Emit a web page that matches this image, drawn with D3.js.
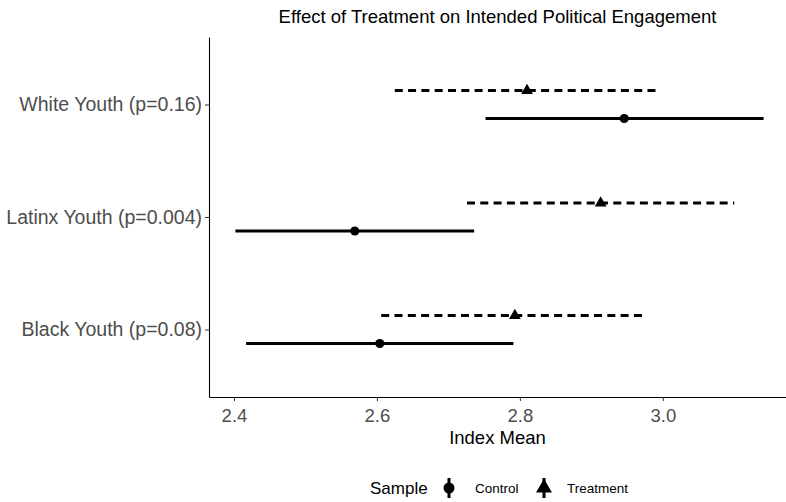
<!DOCTYPE html>
<html lang="en">
<head>
<meta charset="UTF-8">
<title>Effect of Treatment on Intended Political Engagement</title>
<script src="https://d3js.org/d3.v7.min.js"></script>
<style>
    body { margin: 0; background: #fff; font-family: "Liberation Sans", Arial, sans-serif; }
    .axis text { fill: #4d4d4d; font-family: "Liberation Sans", Arial, sans-serif; }
    .axis .tick line { stroke: #333; }
    .axis path { stroke: #000; stroke-width: 1.1; }
</style>
</head>
<body>
<div id="chart"></div>
<script>
    // data
    const groups = ["White Youth (p=0.16)", "Latinx Youth (p=0.004)", "Black Youth (p=0.08)"];
    const samples = ["Treatment", "Control"];
    const controlMean = [2.946, 2.569, 2.604];
    const controlLow = [2.752, 2.402, 2.417];
    const controlHigh = [3.141, 2.736, 2.791];
    const treatMean = [2.810, 2.913, 2.793];
    const treatLow = [2.625, 2.726, 2.606];
    const treatHigh = [2.995, 3.100, 2.978];
    const xTicks = [2.4, 2.6, 2.8, 3.0];

    const rows = [];
    groups.forEach((g, i) => {
        rows.push({ group: g, sample: "Control", mean: controlMean[i], low: controlLow[i], high: controlHigh[i] });
        rows.push({ group: g, sample: "Treatment", mean: treatMean[i], low: treatLow[i], high: treatHigh[i] });
    });

    const W = 786, H = 502;
    // the panel runs slightly past the right edge of the picture
    const margin = { top: 37, right: -4, bottom: 105, left: 209 };

    const svg = d3.select("#chart").append("svg")
        .attr("width", W)
        .attr("height", H);

    // ggplot style 5% expansion
    const lo = d3.min(rows, d => d.low), hi = d3.max(rows, d => d.high);
    const pad = (hi - lo) * 0.05;
    const x = d3.scaleLinear()
        .domain([lo - pad, hi + pad])
        .range([margin.left, W - margin.right]);

    const y = d3.scalePoint()
        .domain(groups)
        .range([margin.top, H - margin.bottom])
        .padding(0.6);

    const dodge = d3.scalePoint()
        .domain(samples)
        .range([-14, 14]);

    const dash = { Control: null, Treatment: "8,5.3" };

    svg.append("g")
        .attr("class", "axis")
        .attr("transform", `translate(0,${H - margin.bottom})`)
        .call(d3.axisBottom(x).tickValues(xTicks).tickFormat(d3.format(".1f")).tickSize(4).tickSizeOuter(0))
        .call(g => g.selectAll("text").attr("font-size", 18.5).attr("dy", "0.95em"));

    svg.append("g")
        .attr("class", "axis")
        .attr("transform", `translate(${margin.left},0)`)
        .call(d3.axisLeft(y).tickSize(4).tickSizeOuter(0))
        .call(g => g.selectAll("text").attr("font-size", 19.5).attr("x", -7));

    // intervals
    svg.selectAll(".ci")
        .data(rows)
        .enter().append("line")
        .attr("class", "ci")
        .attr("x1", d => x(d.low))
        .attr("x2", d => x(d.high))
        .attr("y1", d => y(d.group) + dodge(d.sample))
        .attr("y2", d => y(d.group) + dodge(d.sample))
        .attr("stroke", "#000")
        .attr("stroke-width", 3)
        .attr("stroke-dasharray", d => dash[d.sample]);

    // point estimates
    const shape = {
        Control: d3.symbol(d3.symbolCircle, 66)(),
        Treatment: d3.symbol(d3.symbolTriangle, 60)()
    };
    svg.selectAll(".est")
        .data(rows)
        .enter().append("path")
        .attr("class", "est")
        .attr("d", d => shape[d.sample])
        .attr("transform", d => `translate(${x(d.mean)},${y(d.group) + dodge(d.sample)})`)
        .attr("fill", "#000");

    // title and axis title
    const midX = (margin.left + W - margin.right) / 2;
    svg.append("text")
        .attr("x", midX - 2)
        .attr("y", 23)
        .attr("text-anchor", "middle")
        .attr("font-size", 18.5)
        .attr("fill", "#000")
        .text("Effect of Treatment on Intended Political Engagement");

    svg.append("text")
        .attr("x", midX - 2)
        .attr("y", 444)
        .attr("text-anchor", "middle")
        .attr("font-size", 18.5)
        .attr("fill", "#000")
        .text("Index Mean");

    // legend
    const leg = svg.append("g").attr("transform", "translate(0,488)");
    leg.append("text")
        .attr("x", 370).attr("y", 6)
        .attr("font-size", 17)
        .text("Sample");

    const legItems = [
        { sample: "Control", gx: 449, tx: 475 },
        { sample: "Treatment", gx: 544, tx: 567 }
    ];
    legItems.forEach(it => {
        leg.append("line")
            .attr("x1", it.gx).attr("x2", it.gx)
            .attr("y1", -10).attr("y2", 10)
            .attr("stroke", "#000").attr("stroke-width", 3)
            .attr("stroke-dasharray", dash[it.sample]);
        leg.append("path")
            .attr("d", d3.symbol(it.sample === "Control" ? d3.symbolCircle : d3.symbolTriangle, it.sample === "Control" ? 95 : 110)())
            .attr("transform", `translate(${it.gx},0)`)
            .attr("fill", "#000");
        leg.append("text")
            .attr("x", it.tx).attr("y", 5)
            .attr("font-size", 13.5)
            .text(it.sample);
    });
</script>
</body>
</html>
